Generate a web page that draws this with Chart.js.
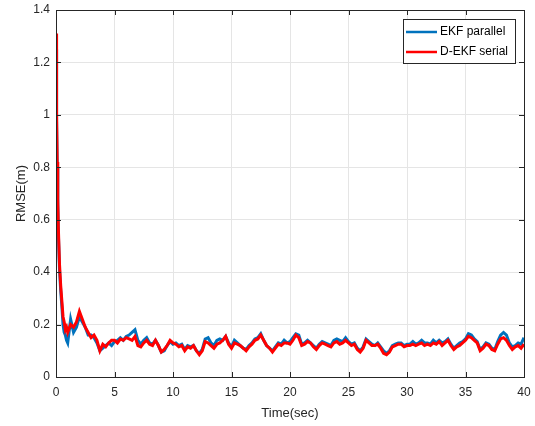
<!DOCTYPE html>
<html>
<head>
<meta charset="utf-8">
<script src="https://cdn.jsdelivr.net/npm/chart.js@4.4.1/dist/chart.umd.min.js"></script>
<style>
  html, body { margin: 0; padding: 0; background: #fff; }
  #wrap { width: 535px; height: 426px; position: relative; }
</style>
</head>
<body>
<div id="wrap"><canvas id="rmseChart"></canvas></div>
<script>
// time axis (sec)
var timeSec = [0, 0.05, 0.1, 0.15, 0.2, 0.3, 0.4, 0.5, 0.6, 0.7, 0.8, 0.9,
  1, 1.25, 1.5, 1.75, 2, 2.25, 2.5, 2.75, 3, 3.25, 3.5, 3.75, 4, 4.25, 4.5, 4.75,
  5, 5.25, 5.5, 5.75, 6, 6.25, 6.5, 6.75, 7, 7.25, 7.5, 7.75, 8, 8.25, 8.5, 8.75,
  9, 9.25, 9.5, 9.75, 10, 10.25, 10.5, 10.75, 11, 11.25, 11.5, 11.75, 12, 12.25, 12.5, 12.75,
  13, 13.25, 13.5, 13.75, 14, 14.25, 14.5, 14.75, 15, 15.25, 15.5, 15.75, 16, 16.25, 16.5, 16.75,
  17, 17.25, 17.5, 17.75, 18, 18.25, 18.5, 18.75, 19, 19.25, 19.5, 19.75, 20, 20.25, 20.5, 20.75,
  21, 21.25, 21.5, 21.75, 22, 22.25, 22.5, 22.75, 23, 23.25, 23.5, 23.75, 24, 24.25, 24.5, 24.75,
  25, 25.25, 25.5, 25.75, 26, 26.25, 26.5, 26.75, 27, 27.25, 27.5, 27.75, 28, 28.25, 28.5, 28.75,
  29, 29.25, 29.5, 29.75, 30, 30.25, 30.5, 30.75, 31, 31.25, 31.5, 31.75, 32, 32.25, 32.5, 32.75,
  33, 33.25, 33.5, 33.75, 34, 34.25, 34.5, 34.75, 35, 35.25, 35.5, 35.75, 36, 36.25, 36.5, 36.75,
  37, 37.25, 37.5, 37.75, 38, 38.25, 38.5, 38.75, 39, 39.25, 39.5, 39.75, 40];

var ekfParallel = [1.25, 0.98, 0.8, 0.66, 0.55, 0.41, 0.33, 0.27, 0.2, 0.17, 0.16, 0.14,
  0.13, 0.22, 0.17, 0.19, 0.23, 0.21, 0.19, 0.16, 0.16, 0.15, 0.13, 0.10, 0.11, 0.12, 0.13, 0.12,
  0.135, 0.14, 0.15, 0.14, 0.155, 0.16, 0.17, 0.18, 0.14, 0.125, 0.14, 0.15, 0.13, 0.125, 0.14, 0.12,
  0.095, 0.10, 0.12, 0.135, 0.125, 0.13, 0.12, 0.125, 0.105, 0.12, 0.115, 0.12, 0.10, 0.09, 0.105, 0.145,
  0.15, 0.13, 0.12, 0.14, 0.145, 0.14, 0.155, 0.13, 0.115, 0.14, 0.13, 0.12, 0.11, 0.105, 0.12, 0.13,
  0.145, 0.15, 0.165, 0.14, 0.12, 0.11, 0.10, 0.115, 0.13, 0.125, 0.14, 0.13, 0.135, 0.15, 0.165, 0.16,
  0.125, 0.13, 0.14, 0.13, 0.12, 0.11, 0.125, 0.135, 0.13, 0.125, 0.12, 0.14, 0.145, 0.14, 0.135, 0.15,
  0.135, 0.125, 0.13, 0.11, 0.10, 0.115, 0.145, 0.135, 0.125, 0.12, 0.13, 0.115, 0.10, 0.09, 0.10, 0.12,
  0.125, 0.13, 0.13, 0.12, 0.125, 0.125, 0.135, 0.125, 0.13, 0.14, 0.13, 0.13, 0.125, 0.14, 0.13, 0.14,
  0.13, 0.135, 0.145, 0.125, 0.11, 0.12, 0.13, 0.135, 0.145, 0.165, 0.16, 0.145, 0.135, 0.105, 0.115, 0.13,
  0.125, 0.11, 0.105, 0.135, 0.16, 0.17, 0.16, 0.13, 0.115, 0.12, 0.13, 0.125, 0.15];

var dekfSerial = [1.31, 1.0, 0.82, 0.68, 0.57, 0.43, 0.35, 0.29, 0.23, 0.21, 0.18, 0.19,
  0.17, 0.20, 0.19, 0.21, 0.25, 0.22, 0.19, 0.17, 0.15, 0.16, 0.14, 0.10, 0.125, 0.115, 0.13, 0.14,
  0.14, 0.13, 0.145, 0.14, 0.15, 0.145, 0.14, 0.155, 0.12, 0.115, 0.13, 0.14, 0.125, 0.12, 0.14, 0.12,
  0.095, 0.105, 0.12, 0.14, 0.13, 0.125, 0.115, 0.12, 0.10, 0.115, 0.11, 0.12, 0.10, 0.085, 0.10, 0.135,
  0.13, 0.12, 0.11, 0.125, 0.13, 0.14, 0.155, 0.125, 0.11, 0.13, 0.125, 0.12, 0.11, 0.10, 0.115, 0.125,
  0.14, 0.145, 0.16, 0.14, 0.12, 0.11, 0.095, 0.11, 0.125, 0.12, 0.13, 0.13, 0.125, 0.14, 0.16, 0.15,
  0.12, 0.125, 0.135, 0.13, 0.115, 0.105, 0.12, 0.13, 0.125, 0.12, 0.115, 0.13, 0.135, 0.125, 0.13, 0.14,
  0.13, 0.12, 0.125, 0.105, 0.095, 0.11, 0.14, 0.13, 0.12, 0.12, 0.125, 0.11, 0.09, 0.085, 0.095, 0.115,
  0.12, 0.125, 0.125, 0.115, 0.12, 0.12, 0.125, 0.12, 0.125, 0.13, 0.12, 0.125, 0.12, 0.13, 0.125, 0.135,
  0.12, 0.13, 0.14, 0.12, 0.105, 0.115, 0.12, 0.13, 0.14, 0.155, 0.15, 0.14, 0.13, 0.10, 0.11, 0.125,
  0.12, 0.105, 0.10, 0.125, 0.145, 0.15, 0.14, 0.12, 0.105, 0.115, 0.12, 0.11, 0.125];

var xTicks = [0, 5, 10, 15, 20, 25, 30, 35, 40];
var yTicks = [0, 0.2, 0.4, 0.6, 0.8, 1, 1.2, 1.4];

var FONT = "'Liberation Sans', Arial, Helvetica, sans-serif";
var TXT = '#262626';

function toPoints(xs, ys) {
  var pts = [];
  for (var i = 0; i < xs.length; i++) pts.push({x: xs[i], y: ys[i]});
  return pts;
}

// box, inward ticks and legend drawn like MATLAB figure
var matlabBox = {
  id: 'matlabBox',
  afterDraw: function(chart) {
    var c = chart.ctx, a = chart.chartArea;
    var xs = chart.scales.x, ys = chart.scales.y;
    c.save();
    c.strokeStyle = TXT;
    c.lineWidth = 1;
    c.strokeRect(Math.round(a.left) + 0.5, Math.round(a.top) + 0.5,
      Math.round(a.right - a.left), Math.round(a.bottom - a.top));
    c.beginPath();
    xTicks.forEach(function(v) {
      var px = Math.round(xs.getPixelForValue(v)) + 0.5;
      c.moveTo(px, a.bottom); c.lineTo(px, a.bottom - 5);
      c.moveTo(px, a.top); c.lineTo(px, a.top + 5);
    });
    yTicks.forEach(function(v) {
      var py = Math.round(ys.getPixelForValue(v)) + 0.5;
      c.moveTo(a.left, py); c.lineTo(a.left + 5, py);
      c.moveTo(a.right, py); c.lineTo(a.right - 5, py);
    });
    c.stroke();

    // legend
    var lx = 403, ly = 19, lw = 112, lh = 44;
    c.fillStyle = '#fff';
    c.fillRect(lx, ly, lw, lh);
    c.strokeStyle = TXT;
    c.strokeRect(lx + 0.5, ly + 0.5, lw, lh);
    var items = [chart.data.datasets[1], chart.data.datasets[0]];
    c.font = '12px ' + FONT;
    c.textBaseline = 'middle';
    items.forEach(function(ds, i) {
      var yy = ly + 13 + i * 20;
      c.strokeStyle = ds.borderColor;
      c.lineWidth = 2.5;
      c.beginPath(); c.moveTo(lx + 3, yy); c.lineTo(lx + 34, yy); c.stroke();
      c.fillStyle = '#000';
      c.fillText(ds.label, lx + 37, yy);
    });
    c.restore();
  }
};

new Chart(document.getElementById('rmseChart'), {
  type: 'line',
  data: {
    datasets: [
      {
        label: 'D-EKF serial',
        data: toPoints(timeSec, dekfSerial),
        borderColor: '#ff0000',
        borderWidth: 3,
        pointRadius: 0,
        fill: false,
        tension: 0,
        order: 0
      },
      {
        label: 'EKF parallel',
        data: toPoints(timeSec, ekfParallel),
        borderColor: '#0072bd',
        borderWidth: 3,
        pointRadius: 0,
        fill: false,
        tension: 0,
        order: 1
      }
    ]
  },
  options: {
    responsive: true,
    maintainAspectRatio: false,
    animation: false,
    layout: { padding: { top: 10, right: 11, left: 14, bottom: 0 } },
    plugins: { legend: { display: false }, tooltip: { enabled: false } },
    scales: {
      x: {
        type: 'linear',
        min: 0, max: 40,
        afterBuildTicks: function(s) { s.ticks = xTicks.map(function(v) { return {value: v}; }); },
        afterFit: function(s) { s.height = 49; s.paddingLeft = 0; s.paddingRight = 0; },
        grid: { color: '#e5e5e5', drawTicks: false },
        border: { color: TXT },
        ticks: { color: TXT, font: { family: FONT, size: 12 }, padding: 8, maxRotation: 0 },
        title: { display: true, text: 'Time(sec)', color: TXT, font: { family: FONT, size: 13 }, padding: { top: 1, bottom: 5 } }
      },
      y: {
        min: 0, max: 1.4,
        afterBuildTicks: function(s) { s.ticks = yTicks.map(function(v) { return {value: v}; }); },
        afterFit: function(s) { s.width = 42; s.paddingTop = 0; s.paddingBottom = 0; },
        grid: { color: '#e5e5e5', drawTicks: false },
        border: { color: TXT },
        ticks: {
          color: TXT, font: { family: FONT, size: 12 }, padding: 6,
          callback: function(v) { return String(Math.round(v * 10) / 10); }
        },
        title: { display: true, text: 'RMSE(m)', color: TXT, font: { family: FONT, size: 13 }, padding: { top: 0, bottom: 6 } }
      }
    }
  },
  plugins: [matlabBox]
});
</script>
</body>
</html>
